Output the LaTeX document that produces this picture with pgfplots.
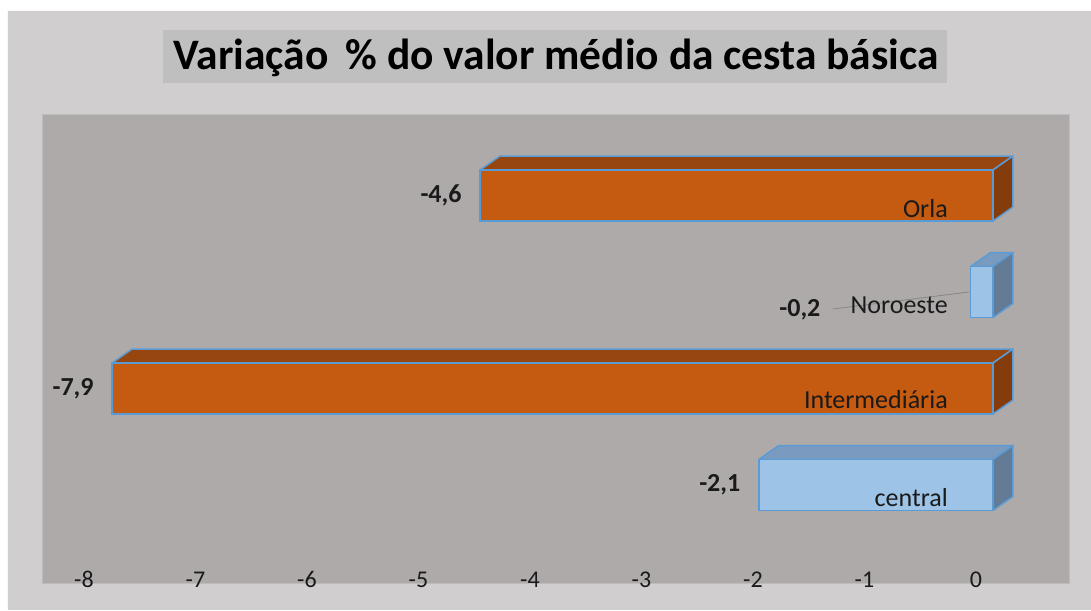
\documentclass[border=0pt]{standalone}
\usepackage{fontspec}
\setmainfont{Carlito}
\usepackage{pgfplots}
\pgfplotsset{compat=1.18}
\definecolor{outerbg}{HTML}{D0CECE}
\definecolor{plotbg}{HTML}{AEAAAA}
\definecolor{plotborder}{HTML}{BDBBBB}
\definecolor{titlebg}{HTML}{BFBFBF}
\definecolor{orfront}{HTML}{C55A11}
\definecolor{ortop}{HTML}{974610}
\definecolor{orside}{HTML}{843C0C}
\definecolor{blfront}{HTML}{9DC3E6}
\definecolor{bltop}{HTML}{7A9BBF}
\definecolor{blside}{HTML}{647B95}
\definecolor{edge}{HTML}{5B9BD5}
\definecolor{txt}{HTML}{1A1A1A}
\begin{document}
\begin{tikzpicture}[x=1pt,y=1pt]
\path[use as bounding box] (0,0) rectangle (1091,610);
\fill[white] (0,0) rectangle (1091,610);
\fill[outerbg] (7,0) rectangle (1091,600);
\draw[white!85!outerbg, line width=1pt] (7.5,0) -- (7.5,599.5) -- (1091,599.5);
\fill[titlebg] (163,527) rectangle (947,580);
\node[font=\fontsize{43.5}{50}\selectfont\bfseries, text=black] at (556,552) {Variação\, \% do valor médio da cesta básica};
\begin{axis}[
  at={(42pt,27pt)}, anchor=south west,
  scale only axis, width=1027pt, height=469pt,
  xmin=-8.529, xmax=0.6816, ymin=-1.0155, ymax=3.8446,
  axis background/.style={fill=plotbg},
  axis line style={draw=plotborder, line width=0.8pt},
  ytick=\empty,
  xtick={-8,-7,-6,-5,-4,-3,-2,-1,0},
  major tick length=0pt,
  /pgf/number format/assume math mode=true,
  xticklabel style={anchor=base, xshift=-17pt, yshift=-4pt, font=\fontsize{24}{28}\selectfont, text=txt},
  clip=false,
]
% top faces
\addplot[fill=ortop, draw=edge, line width=1.5pt, line join=round, mark=none] coordinates {(-4.6,3.264) (-4.421,3.409) (0.179,3.409) (0,3.264)} -- cycle;
\addplot[fill=bltop, draw=edge, line width=1.5pt, line join=round, mark=none] coordinates {(-0.2,2.264) (-0.021,2.409) (0.179,2.409) (0,2.264)} -- cycle;
\addplot[fill=ortop, draw=edge, line width=1.5pt, line join=round, mark=none] coordinates {(-7.9,1.264) (-7.721,1.409) (0.179,1.409) (0,1.264)} -- cycle;
\addplot[fill=bltop, draw=edge, line width=1.5pt, line join=round, mark=none] coordinates {(-2.1,0.264) (-1.921,0.409) (0.179,0.409) (0,0.264)} -- cycle;
% side faces
\addplot[fill=orside, draw=edge, line width=1.5pt, line join=round, mark=none] coordinates {(0,2.736) (0,3.264) (0.179,3.409) (0.179,2.881)} -- cycle;
\addplot[fill=blside, draw=edge, line width=1.5pt, line join=round, mark=none] coordinates {(0,1.736) (0,2.264) (0.179,2.409) (0.179,1.881)} -- cycle;
\addplot[fill=orside, draw=edge, line width=1.5pt, line join=round, mark=none] coordinates {(0,0.736) (0,1.264) (0.179,1.409) (0.179,0.881)} -- cycle;
\addplot[fill=blside, draw=edge, line width=1.5pt, line join=round, mark=none] coordinates {(0,-0.264) (0,0.264) (0.179,0.409) (0.179,-0.119)} -- cycle;
% front faces
\addplot[xbar, bar width=0.528, bar shift=0, fill=orfront, draw=edge, line width=1.5pt] coordinates {(-4.6,3) (-7.9,1)};
\addplot[xbar, bar width=0.528, bar shift=0, fill=blfront, draw=edge, line width=1.5pt] coordinates {(-0.2,2) (-2.1,0)};
% leader line for Noroeste
\addplot[draw=black!22!plotbg, line width=0.8pt, mark=none] coordinates {(-1.435,1.824) (-0.215,2.0)};
% data labels
\node[anchor=east, font=\fontsize{26}{30}\selectfont\bfseries, text=txt] at (axis cs:-4.6,3) [xshift=-15pt] {-4,6};
\node[anchor=east, font=\fontsize{26}{30}\selectfont\bfseries, text=txt] at (axis cs:-7.9,1) [xshift=-15pt] {-7,9};
\node[anchor=east, font=\fontsize{26}{30}\selectfont\bfseries, text=txt] at (axis cs:-2.1,0) [xshift=-15pt] {-2,1};
\node[anchor=east, font=\fontsize{26}{30}\selectfont\bfseries, text=txt] at (axis cs:-1.516,1.813) {-0,2};
% category labels
\node[anchor=base east, font=\fontsize{26}{30}\selectfont, text=txt, inner sep=0pt] at (axis cs:-0.404,2.777) {Orla};
\node[anchor=base east, font=\fontsize{26}{30}\selectfont, text=txt, inner sep=0pt] at (axis cs:-0.404,1.782) {Noroeste};
\node[anchor=base east, font=\fontsize{26}{30}\selectfont, text=txt, inner sep=0pt] at (axis cs:-0.404,0.788) {Intermediária};
\node[anchor=base east, font=\fontsize{26}{30}\selectfont, text=txt, inner sep=0pt] at (axis cs:-0.404,-0.218) {central};
\end{axis}
\end{tikzpicture}
\end{document}
